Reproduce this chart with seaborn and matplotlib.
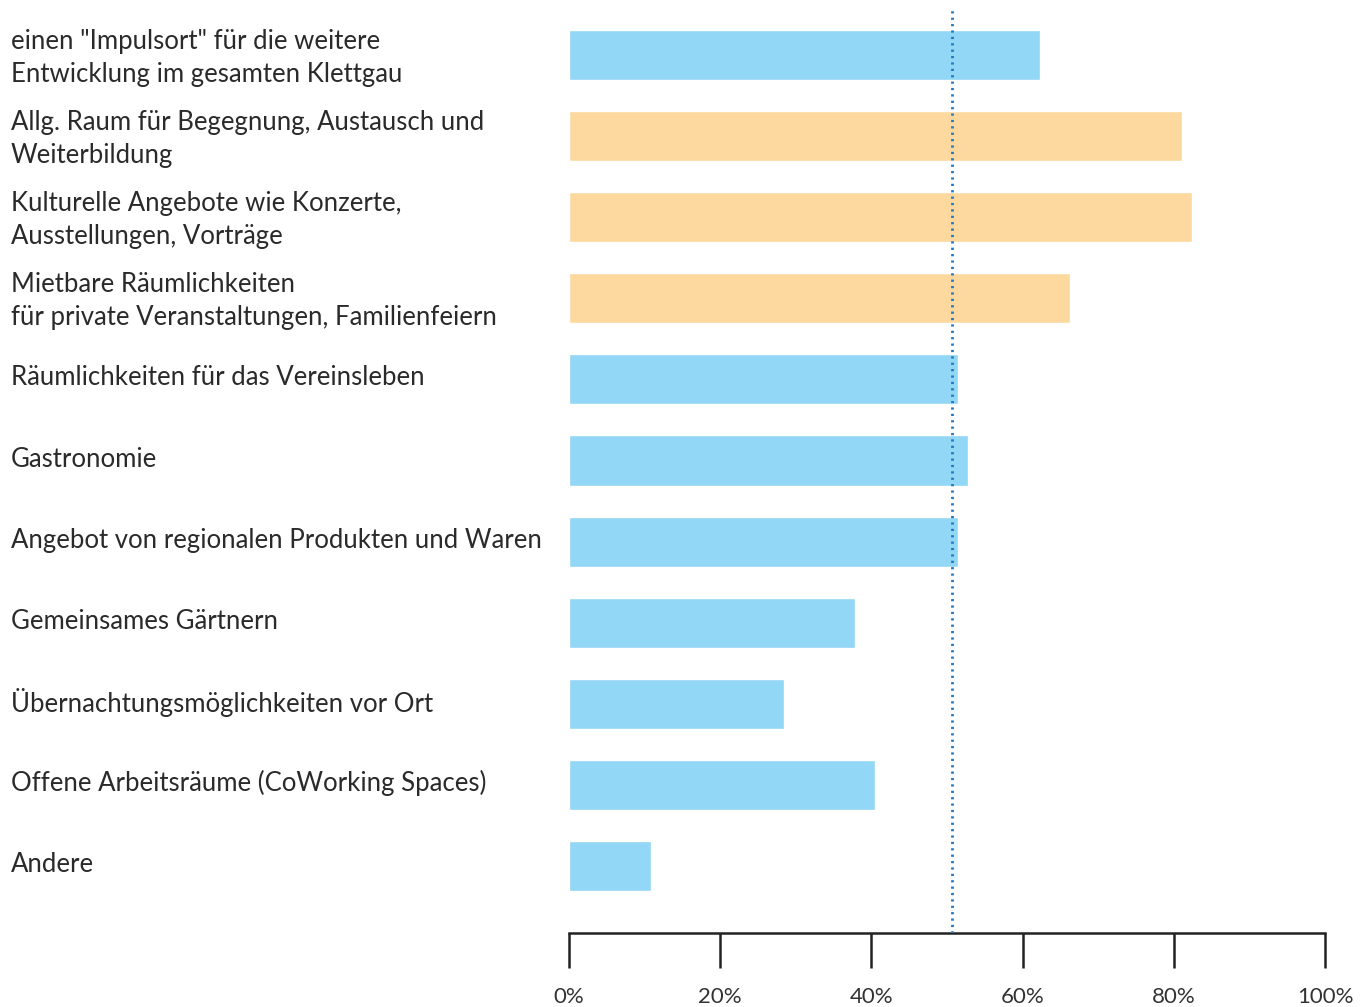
import matplotlib
matplotlib.use("Agg")
import matplotlib.pyplot as plt
import matplotlib.transforms as mtransforms
import seaborn as sns
import pandas as pd

categories = [
    'einen "Impulsort" für die weitere\nEntwicklung im gesamten Klettgau',
    'Allg. Raum für Begegnung, Austausch und\nWeiterbildung',
    'Kulturelle Angebote wie Konzerte,\nAusstellungen, Vorträge',
    'Mietbare Räumlichkeiten\nfür private Veranstaltungen, Familienfeiern',
    'Räumlichkeiten für das Vereinsleben',
    'Gastronomie',
    'Angebot von regionalen Produkten und Waren',
    'Gemeinsames Gärtnern',
    'Übernachtungsmöglichkeiten vor Ort',
    'Offene Arbeitsräume (CoWorking Spaces)',
    'Andere',
]
values = [62.3, 81.1, 82.4, 66.3, 51.5, 52.8, 51.5, 37.8, 28.4, 40.5, 10.8]
groups = ['a', 'b', 'b', 'b', 'a', 'a', 'a', 'a', 'a', 'a', 'a']
reference_line = 50.7
xticks = [0, 20, 40, 60, 80, 100]
xticklabels = ['0%', '20%', '40%', '60%', '80%', '100%']

df = pd.DataFrame({"cat": categories, "val": values, "grp": groups})

sns.set_theme(style="white")
plt.rcParams['font.family'] = ['Lato', 'DejaVu Sans']

W, H = 1370, 1007
fig = plt.figure(figsize=(W / 100, H / 100), dpi=100)
left = 569 / W
right = 1325 / W
top = 1 - 10 / H
bottom = 1 - 933 / H
ax = fig.add_axes([left, bottom, right - left, top - bottom])

sns.barplot(data=df, y="cat", x="val", hue="grp",
            palette={"a": "#92D7F5", "b": "#FDD9A0"},
            order=categories, orient="h", width=0.617,
            dodge=False, legend=False, saturation=1, ax=ax)

ax.axvline(reference_line, color="#1f78c8", linewidth=2.0,
           linestyle=(0, (0.8, 1.5)), zorder=5)

ax.set_xlim(0, 100)
ax.set_ylim(10.826, -0.555)
ax.set_xlabel("")
ax.set_ylabel("")

for s in ["top", "right", "left"]:
    ax.spines[s].set_visible(False)
ax.spines["bottom"].set_color("#222222")
ax.spines["bottom"].set_linewidth(1.8)

ax.set_xticks(xticks)
ax.set_xticklabels(xticklabels)
ax.tick_params(axis="x", direction="out", length=25, width=1.8,
               color="#222222", pad=14, labelsize=16, labelcolor="#333333",
               bottom=True)
ax.tick_params(axis="y", length=0, pad=(569 - 11) * 0.72, labelsize=18.5,
               labelcolor="#2a2a2a")
shift = mtransforms.ScaledTranslation(0, 4 / 100, fig.dpi_scale_trans)
for lbl in ax.get_yticklabels():
    lbl.set_horizontalalignment("left")
    lbl.set_linespacing(1.4)
    lbl.set_transform(lbl.get_transform() + shift)

fig.savefig("out.png", dpi=100)
